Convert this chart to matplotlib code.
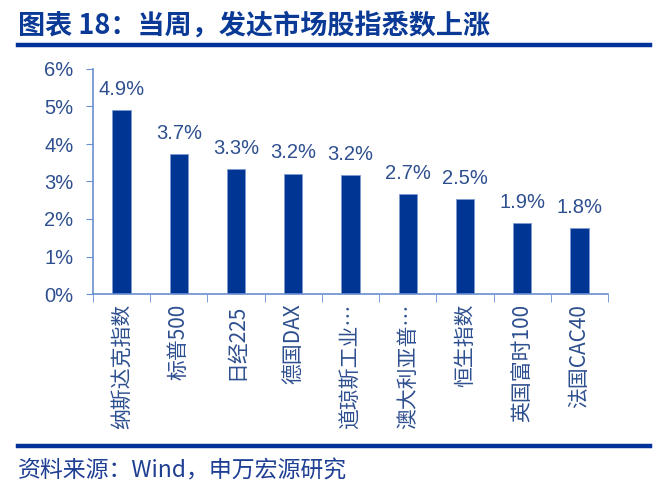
import matplotlib
matplotlib.use("Agg")
import matplotlib.pyplot as plt
from matplotlib.lines import Line2D

plt.rcParams['font.family'] = ['Liberation Sans', 'Noto Sans CJK SC', 'DejaVu Sans']

categories = ["纳斯达克指数", "标普500", "日经225", "德国DAX", "道琼斯工业…",
              "澳大利亚普…", "恒生指数", "英国富时100", "法国CAC40"]
values = [4.90, 3.72, 3.33, 3.21, 3.17, 2.66, 2.53, 1.90, 1.76]
yticks = [0, 1, 2, 3, 4, 5, 6]

bar_color = "#003594"
text_color = "#2E4F8F"
axis_color = "#6A8FD0"
title_color = "#0A3A96"

fig = plt.figure(figsize=(6.62, 4.97), dpi=100)
ax = fig.add_axes([93/662, 1-294/497, (608-93)/662, (294-69)/497])

x = list(range(len(categories)))
ax.bar(x, values, width=0.32, color=bar_color, edgecolor="#7F9BD0", linewidth=0.6)
for xi, v in zip(x, values):
    ax.text(xi, v + 0.30, f"{v:.1f}%", ha="center", va="bottom", fontsize=14.5,
            color=text_color, family=['Liberation Sans', 'DejaVu Sans'])

ax.set_xlim(-0.5, len(categories) - 0.5)
ax.set_ylim(0, 6)
ax.set_yticks(yticks)
ax.set_yticklabels([f"{t}%" for t in yticks], fontsize=14.5, color=text_color)
ax.set_xticks(x)
ax.set_xticklabels(categories, rotation=90, fontsize=15, color=text_color,
                   family=['Noto Sans CJK SC', 'DejaVu Sans'])
ax.tick_params(axis='x', length=0, pad=7)
ax.tick_params(axis='y', length=5, color=axis_color, direction='out', pad=9)
# category-boundary ticks
ax.set_xticks([i - 0.5 for i in range(len(categories) + 1)], minor=True)
ax.tick_params(axis='x', which='minor', length=6, color=axis_color, direction='out')

for s in ['top', 'right']:
    ax.spines[s].set_visible(False)
for s in ['left', 'bottom']:
    ax.spines[s].set_color(axis_color)
    ax.spines[s].set_linewidth(1.2)

fig.text(18/662, 1-26/497, "图表 18：当周，发达市场股指悉数上涨", fontsize=19.5, fontweight='bold',
         color=title_color, va='center', ha='left', family=['Noto Sans CJK SC', 'DejaVu Sans'])
fig.add_artist(Line2D([18/662, 650/662], [1-44.5/497, 1-44.5/497], color="#00329A", linewidth=3.2))
fig.add_artist(Line2D([18/662, 650/662], [1-446/497, 1-446/497], color="#00329A", linewidth=3.2))
fig.text(18/662, 1-471/497, "资料来源：Wind，申万宏源研究", fontsize=16.5,
         color="#1F3F94", va='center', ha='left', family=['Noto Sans CJK SC', 'DejaVu Sans'])

fig.savefig("out.png", dpi=100)
